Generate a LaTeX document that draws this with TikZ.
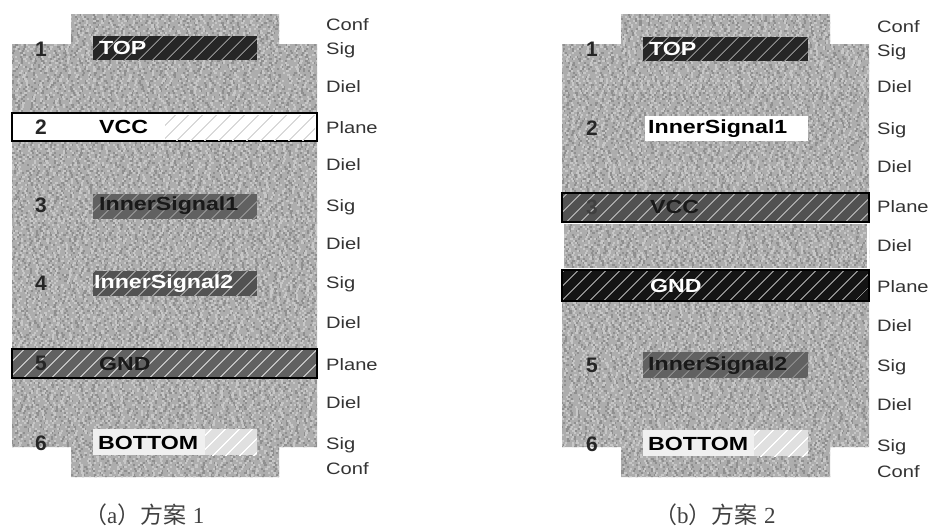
\documentclass[tikz,border=0pt]{standalone}
\usepackage{fontspec}
\setmainfont{Liberation Sans}
\newfontfamily\capserif{Liberation Serif}
\newfontfamily\capcjk{Noto Sans CJK SC}
\newfontfamily\widefont[FakeStretch=1.22]{Liberation Sans}
\usetikzlibrary{patterns.meta}
\definecolor{boardgray}{gray}{0.68}
\tikzset{
  layerbox/.style={anchor=north west,inner sep=0pt,outer sep=0pt,line width=1.6pt},
  hatched/.style={pattern={Lines[angle=45,distance=10.5pt,line width=1.3pt]},pattern color=#1},
  numlabel/.style={font=\fontsize{21}{21}\selectfont\bfseries,text=black!85,inner sep=0pt},
  namelabel/.style={font=\widefont\fontsize{19}{19}\selectfont\bfseries,anchor=west,inner sep=0pt},
  typelabel/.style={font=\widefont\fontsize{16.5}{17}\selectfont,text=black!80,anchor=west,inner sep=0pt},
  caption/.style={font=\fontsize{23}{23}\selectfont,text=black!75,inner sep=0pt,anchor=west}
}
% rows of irregular dashes give the grainy board texture at little memory cost
\newcommand{\speckrow}[4]{% colour, x0, x1, y
  \pgfmathsetmacro{\da}{2+rnd*11}\pgfmathsetmacro{\db}{2+rnd*11}
  \pgfmathsetmacro{\dc}{2+rnd*11}\pgfmathsetmacro{\dd}{2+rnd*11}
  \pgfmathsetmacro{\dp}{rnd*30}
  \draw[#1,line width=2pt,dash pattern=on 2pt off \da pt on 3pt off \db pt on 2pt off \dc pt on 2pt off \dd pt,dash phase=\dp pt] (#2,#4) -- (#3,#4);
}
\newcommand{\speckle}[2]{% x0, x1
  \foreach \r in {15,17,...,477}{
    \speckrow{black!44}{#1}{#2}{\r}
    \speckrow{black!22}{#1}{#2}{\r}
  }
}
\newcommand{\boardpath}[4]{% body left, body right, tab left, tab right
  (#3,14) -- (#4,14) -- (#4,44) -- (#2,44) -- (#2,447) -- (#4,447) -- (#4,477)
  -- (#3,477) -- (#3,447) -- (#1,447) -- (#1,44) -- (#3,44) -- cycle
}
\begin{document}
\begin{tikzpicture}[x=1pt,y=-1pt]
\useasboundingbox (0,0) rectangle (932,531);
\pgfmathsetseed{4217}
% left board
\begin{scope}
  \fill[boardgray] \boardpath{12}{317}{71}{279};
  \clip \boardpath{12}{317}{71}{279};
  \speckle{12}{317}
\end{scope}
% right board
\begin{scope}
  \fill[boardgray] \boardpath{562}{869}{621}{830};
  \clip \boardpath{562}{869}{621}{830};
  \speckle{562}{869}
\end{scope}

% left layers
\node[layerbox,minimum width=164pt,minimum height=24pt,preaction={fill=black!85},hatched=black!45] (aTop) at (93,36) {};
\node[layerbox,draw=black,fill=white,minimum width=305pt,minimum height=28pt] (aVcc) at (12,113) {};
\node[layerbox,minimum width=150pt,minimum height=25pt,hatched=black!15] (aVccH) at (165,115) {};
\node[layerbox,minimum width=164pt,minimum height=25pt,preaction={fill=black!62},hatched=black!45] (aSigA) at (93,194) {};
\node[layerbox,minimum width=164pt,minimum height=25pt,preaction={fill=black!68},hatched=black!40] (aSigB) at (93,271) {};
\node[layerbox,draw=black,minimum width=305pt,minimum height=29pt,preaction={fill=black!62},hatched=black!25] (aGnd) at (12,349) {};
\node[layerbox,minimum width=164pt,minimum height=26pt,fill=black!6] (aBot) at (93,429) {};
\node[layerbox,minimum width=52pt,minimum height=26pt,preaction={fill=black!12},hatched=white] (aBotH) at (205,429) {};

% right layers
\node[layerbox,minimum width=165pt,minimum height=24pt,preaction={fill=black!85},hatched=black!45] (bTop) at (643,37) {};
\node[layerbox,fill=white,minimum width=163pt,minimum height=25pt] (bSigA) at (645,116) {};
\node[layerbox,draw=black,line width=2pt,minimum width=307pt,minimum height=29pt,preaction={fill=black!68},hatched=black!35] (bVcc) at (562,193) {};
\node[layerbox,draw=white,line width=1.4pt,minimum width=305pt,minimum height=46pt] (bDiel) at (563,223) {};
\node[layerbox,draw=black,line width=2pt,minimum width=307pt,minimum height=31pt,preaction={fill=black!92},hatched=black!45] (bGnd) at (562,270) {};
\node[layerbox,minimum width=165pt,minimum height=26pt,preaction={fill=black!62},hatched=black!45] (bSigB) at (643,352) {};
\node[layerbox,minimum width=165pt,minimum height=26pt,fill=black!6] (bBot) at (643,430) {};
\node[layerbox,minimum width=54pt,minimum height=26pt,preaction={fill=black!12},hatched=white] (bBotH) at (754,430) {};
\draw[black,line width=2pt] (bVcc.south west) -- (bVcc.south east);
\draw[black,line width=2pt] (bGnd.north west) -- (bGnd.north east);

% left numbers
\node[numlabel] (an1) at (41,49) {1};
\node[numlabel] (an2) at (41,127) {2};
\node[numlabel] (an3) at (41,205) {3};
\node[numlabel] (an4) at (41,283) {4};
\node[numlabel] (an5) at (41,363) {5};
\node[numlabel] (an6) at (41,443) {6};
% left names
\node[namelabel,text=white] (at1) at (99,48) {TOP};
\node[namelabel] (at2) at (99,127) {VCC};
\node[namelabel,text=black!90] (at3) at (99,206) {InnerSignal1};
\node[namelabel,text=white] (at4) at (94,284) {InnerSignal2};
\node[namelabel,text=black!90] (at5) at (99,364) {GND};
\node[namelabel] (at6) at (98,443) {BOTTOM};
% left types
\node[typelabel] (ay1) at (326,25) {Conf};
\node[typelabel] (ay2) at (326,50) {Sig};
\node[typelabel] (ay3) at (326,87) {Diel};
\node[typelabel] (ay4) at (326,128) {Plane};
\node[typelabel] (ay5) at (326,165) {Diel};
\node[typelabel] (ay6) at (326,207) {Sig};
\node[typelabel] (ay7) at (326,244) {Diel};
\node[typelabel] (ay8) at (326,284) {Sig};
\node[typelabel] (ay9) at (326,323) {Diel};
\node[typelabel] (ay10) at (326,365) {Plane};
\node[typelabel] (ay11) at (326,403) {Diel};
\node[typelabel] (ay12) at (326,445) {Sig};
\node[typelabel] (ay13) at (326,469) {Conf};

% right numbers
\node[numlabel] (bn1) at (592,49) {1};
\node[numlabel] (bn2) at (592,128) {2};
\node[numlabel,text=black!75] (bn3) at (592,207) {3};
\node[numlabel] (bn5) at (592,365) {5};
\node[numlabel] (bn6) at (592,444) {6};
% right names
\node[namelabel,text=white] (bt1) at (649,49) {TOP};
\node[namelabel] (bt2) at (648,129) {InnerSignal1};
\node[namelabel,text=black!90] (bt3) at (650,207) {VCC};
\node[namelabel,text=white] (bt4) at (650,286) {GND};
\node[namelabel,text=black!90] (bt5) at (648,366) {InnerSignal2};
\node[namelabel] (bt6) at (648,444) {BOTTOM};
% right types
\node[typelabel] (by1) at (877,27) {Conf};
\node[typelabel] (by2) at (877,52) {Sig};
\node[typelabel] (by3) at (877,87) {Diel};
\node[typelabel] (by4) at (877,130) {Sig};
\node[typelabel] (by5) at (877,167) {Diel};
\node[typelabel] (by6) at (877,207) {Plane};
\node[typelabel] (by7) at (877,246) {Diel};
\node[typelabel] (by8) at (877,287) {Plane};
\node[typelabel] (by9) at (877,326) {Diel};
\node[typelabel] (by10) at (877,367) {Sig};
\node[typelabel] (by11) at (877,405) {Diel};
\node[typelabel] (by12) at (877,447) {Sig};
\node[typelabel] (by13) at (877,472) {Conf};

% captions
\node[caption] (capa) at (84,515) {{\capcjk （}{\capserif a}{\capcjk ）方案} {\capserif 1}};
\node[caption] (capb) at (654,515) {{\capcjk （}{\capserif b}{\capcjk ）方案} {\capserif 2}};
\end{tikzpicture}
\end{document}
